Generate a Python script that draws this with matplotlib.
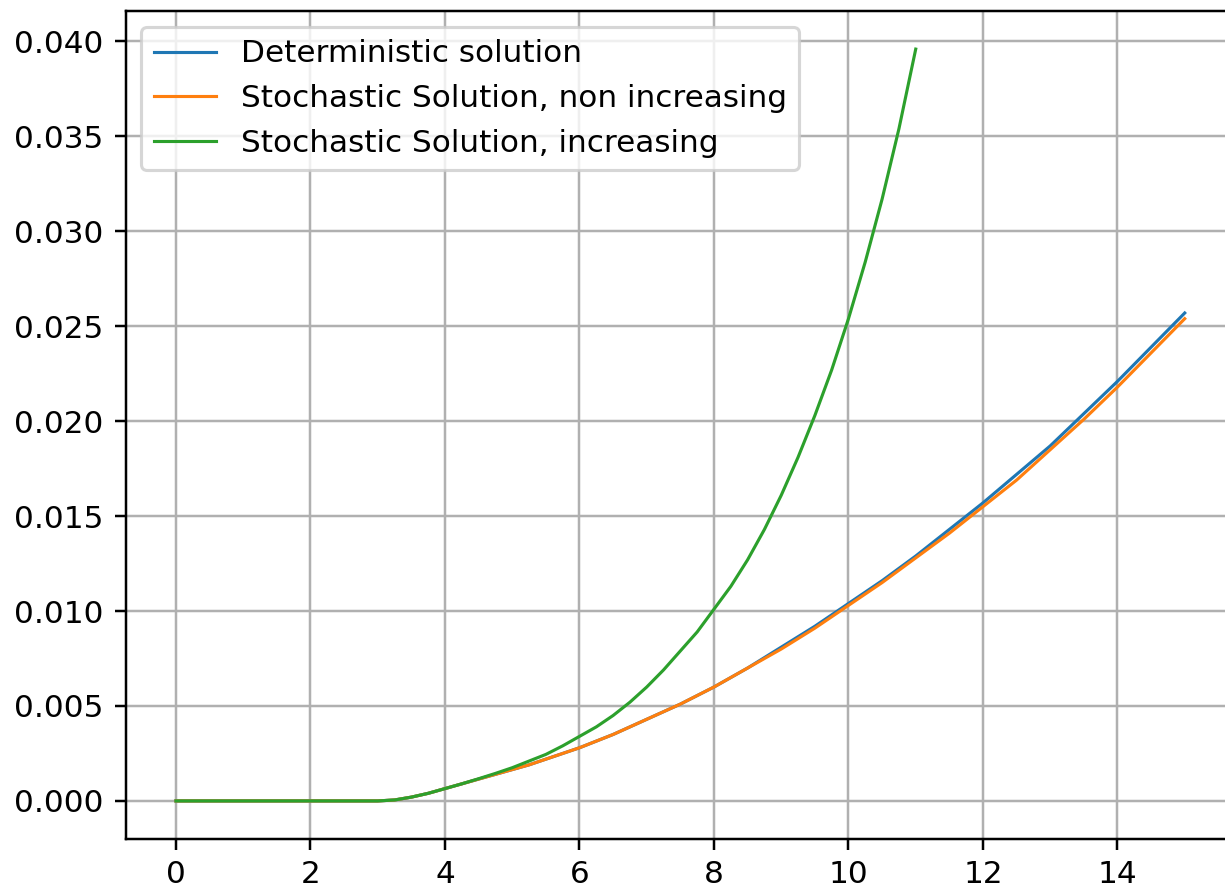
import matplotlib
matplotlib.use('Agg')
import matplotlib.pyplot as plt

# values (finer steps where the curves bend)
t_det = [0, 0.5, 1, 1.5, 2, 2.5, 3, 3.25, 3.5, 3.75, 4, 4.25, 4.5, 4.75,
         5, 5.25, 5.5, 5.75, 6, 6.25, 6.5, 6.75, 7, 7.25, 7.5, 7.75, 8,
         8.5, 9, 9.5, 10, 10.5, 11, 11.5, 12, 12.5, 13, 13.5, 14, 14.5, 15]

# deterministic solution
det = [0, 0, 0, 0, 0, 0, 0, 0.00005, 0.0002, 0.0004, 0.00065, 0.0009,
       0.00115, 0.0014, 0.00165, 0.0019, 0.0022, 0.0025, 0.0028, 0.00315,
       0.0035, 0.0039, 0.0043, 0.0047, 0.0051, 0.00555, 0.0060,
       0.0070, 0.0081, 0.0092, 0.0104, 0.0116, 0.0129, 0.0143, 0.0157,
       0.0172, 0.0187, 0.0204, 0.0221, 0.0239, 0.0257]

# stochastic, non increasing
sto_non = [0, 0, 0, 0, 0, 0, 0, 0.00005, 0.0002, 0.0004, 0.00065, 0.0009,
           0.00115, 0.0014, 0.00165, 0.0019, 0.0022, 0.0025, 0.0028, 0.00315,
           0.0035, 0.0039, 0.0043, 0.0047, 0.0051, 0.00555, 0.0060,
           0.0070, 0.0080, 0.0091, 0.0103, 0.0115, 0.0128, 0.0141, 0.0155,
           0.0169, 0.0185, 0.0201, 0.0218, 0.0236, 0.0254]

# stochastic, increasing (stops at t=11)
t_inc = [0, 0.5, 1, 1.5, 2, 2.5, 3, 3.25, 3.5, 3.75, 4, 4.25, 4.5, 4.75,
         5, 5.25, 5.5, 5.75, 6, 6.25, 6.5, 6.75, 7, 7.25, 7.5, 7.75, 8,
         8.25, 8.5, 8.75, 9, 9.25, 9.5, 9.75, 10, 10.25, 10.5, 10.75, 11]
sto_inc = [0, 0, 0, 0, 0, 0, 0, 0.00005, 0.0002, 0.0004, 0.00065, 0.0009,
           0.00117, 0.00145, 0.00175, 0.0021, 0.00245, 0.0029, 0.0034, 0.0039,
           0.0045, 0.0052, 0.0060, 0.0069, 0.0079, 0.0089, 0.0101,
           0.0113, 0.0127, 0.0143, 0.0161, 0.0181, 0.0203, 0.0227, 0.0254,
           0.0284, 0.0317, 0.0354, 0.0396]

fig = plt.figure(figsize=(1225/224, 891/224), dpi=224)
ax = fig.add_axes([0.1025, 0.0589, 0.9058, 0.9282])

ax.plot(t_det, det, lw=1.0, label='Deterministic solution')
ax.plot(t_det, sto_non, lw=1.0, label='Stochastic Solution, non increasing')
ax.plot(t_inc, sto_inc, lw=1.0, label='Stochastic Solution, increasing')

ax.set_xlim(-0.75, 15.75)
ax.set_ylim(-0.00198, 0.04158)
ax.grid(True)
ax.legend(loc='upper left')

fig.savefig('out.png', dpi=224)
